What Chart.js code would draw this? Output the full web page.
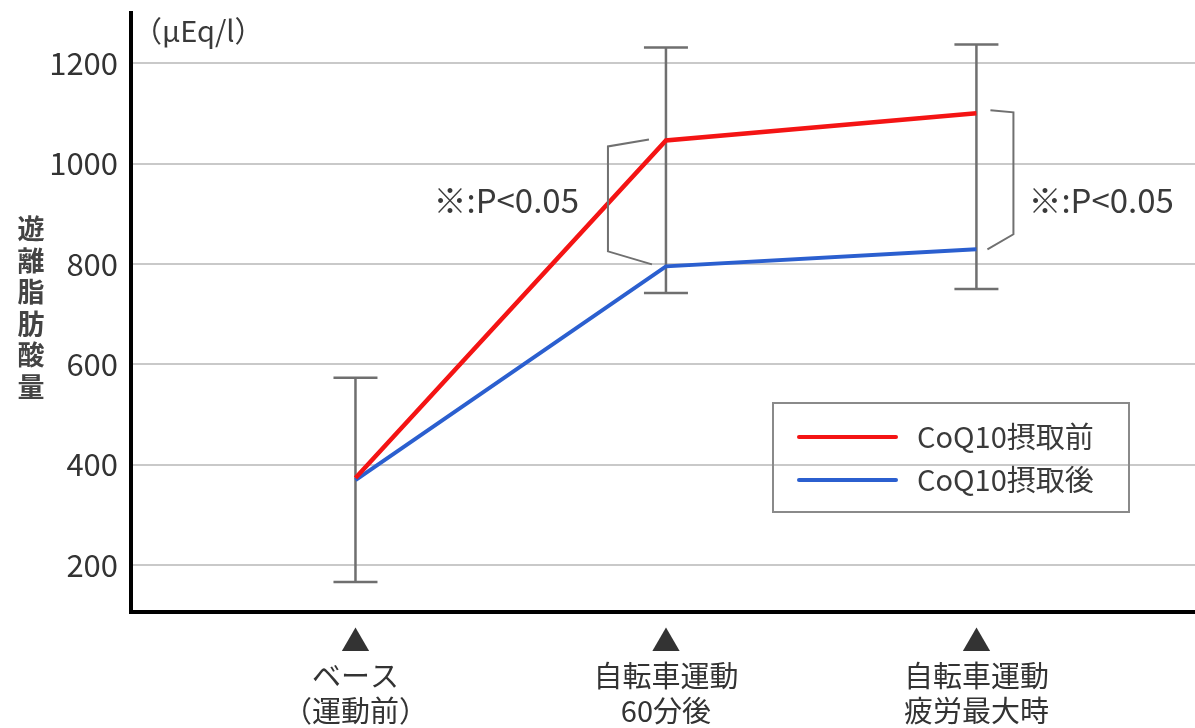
<!DOCTYPE html>
<html>
<head>
<meta charset="utf-8">
<script src="https://cdn.jsdelivr.net/npm/chart.js@4/dist/chart.umd.min.js"></script>
<style>
html,body{margin:0;padding:0;background:#fff;}
#wrap{width:1195px;height:728px;}
</style>
</head>
<body>
<div id="wrap"><canvas id="c" width="1195" height="728"></canvas></div>
<script>
// ---- data ----
const categories = [["▲","ベース","（運動前）"],["▲","自転車運動","60分後"],["▲","自転車運動","疲労最大時"]];
const seriesNames = ["CoQ10摂取前","CoQ10摂取後"];
const beforeValues = [373, 1046, 1100];
const afterValues = [369, 795, 829];
const errHigh = [573, 1231, 1237];
const errLow = [166, 742, 750];
const yTickValues = [200, 400, 600, 800, 1000, 1200];
const yTitle = "遊離脂肪酸量";
const unitLabel = "（μEq/l）";
const sigLabel = "※:P<0.05";
const sigIndices = [1, 2];

const FONT = '"Noto Sans CJK JP", "Noto Sans", sans-serif';
const RED = '#f41414';
const BLUE = '#2b5fcf';

const toPts = arr => arr.map((v, i) => ({x: i, y: v}));

const annot = {
  id: 'annot',
  beforeDatasetsDraw(chart) {
    const {ctx, scales: {x, y}} = chart;
    ctx.save();
    ctx.strokeStyle = '#6f6f6f';
    ctx.lineWidth = 2.5;
    categories.forEach((c, i) => {
      const px = x.getPixelForValue(i);
      const hi = y.getPixelForValue(errHigh[i]);
      const lo = y.getPixelForValue(errLow[i]);
      ctx.beginPath();
      ctx.moveTo(px, hi); ctx.lineTo(px, lo);
      ctx.moveTo(px - 22, hi); ctx.lineTo(px + 22, hi);
      ctx.moveTo(px - 22, lo); ctx.lineTo(px + 22, lo);
      ctx.stroke();
    });
    ctx.restore();
  },
  afterDraw(chart) {
    const {ctx, scales: {x, y}, chartArea} = chart;
    ctx.save();
    // brackets
    ctx.strokeStyle = '#707070';
    ctx.lineWidth = 2;
    ctx.lineJoin = 'miter';
    ctx.fillStyle = '#3a3a3a';
    ctx.textBaseline = 'middle';
    sigIndices.forEach((i, k) => {
      const px = x.getPixelForValue(i);
      const yr = y.getPixelForValue(beforeValues[i]);
      const yb = y.getPixelForValue(afterValues[i]);
      ctx.beginPath();
      if (k === 0) {
        ctx.moveTo(px - 17, yr - 1);
        ctx.lineTo(px - 58, yr + 6);
        ctx.lineTo(px - 58, yb - 15);
        ctx.lineTo(px - 14, yb - 2);
      } else {
        ctx.moveTo(px + 14, yr - 3);
        ctx.lineTo(px + 37, yr - 1);
        ctx.lineTo(px + 37, yb - 15);
        ctx.lineTo(px + 11, yb);
      }
      ctx.stroke();
      ctx.font = '33px ' + FONT;
      ctx.textAlign = k === 0 ? 'right' : 'left';
      const tx = k === 0 ? px - 87 : px + 52;
      ctx.fillText(sigLabel, tx, 200);
    });
    // unit label
    ctx.textAlign = 'left';
    ctx.font = '29px ' + FONT;
    ctx.fillText(unitLabel, chartArea.left + 2, 31);
    // y title stacked
    ctx.font = 'bold 27px ' + FONT;
    ctx.fillStyle = '#444';
    ctx.textAlign = 'center';
    const chars = Array.from(yTitle);
    chars.forEach((ch, j) => ctx.fillText(ch, 31, 229 + j * 31.5));
    // legend box
    const lx = 773, ly = 403, lw = 356, lh = 109;
    ctx.strokeStyle = '#8a8a8a';
    ctx.lineWidth = 2;
    ctx.strokeRect(lx, ly, lw, lh);
    ctx.font = '29px ' + FONT;
    ctx.textAlign = 'left';
    chart.data.datasets.forEach((ds, j) => {
      const yy = 437 + j * 43;
      ctx.strokeStyle = ds.borderColor;
      ctx.lineWidth = 4;
      ctx.lineCap = 'round';
      ctx.beginPath(); ctx.moveTo(799, yy); ctx.lineTo(896, yy); ctx.stroke();
      ctx.fillStyle = '#3a3a3a';
      ctx.fillText(ds.label, 917, yy);
    });
    ctx.restore();
  }
};

new Chart(document.getElementById('c'), {
  type: 'line',
  data: {
    datasets: [
      {label: seriesNames[0], data: toPts(beforeValues), borderColor: RED, borderWidth: 4.5, pointRadius: 0, tension: 0},
      {label: seriesNames[1], data: toPts(afterValues), borderColor: BLUE, borderWidth: 4, pointRadius: 0, tension: 0}
    ]
  },
  options: {
    responsive: false,
    animation: false,
    layout: {padding: {top: 13, right: 0, left: 0, bottom: 0}},
    plugins: {legend: {display: false}, tooltip: {enabled: false}},
    scales: {
      x: {
        type: 'linear',
        min: -0.723, max: 2.704,
        afterBuildTicks: s => { s.ticks = categories.map((c, i) => ({value: i})); },
        afterFit: s => { s.height = 116; s.paddingLeft = 0; s.paddingRight = 0; },
        ticks: {
          callback: v => categories[v],
          color: '#333',
          padding: 12,
          font: {family: FONT, size: 29, lineHeight: 1.2},
          maxRotation: 0, autoSkip: false
        },
        grid: {display: false, drawTicks: false},
        border: {display: true, color: '#000', width: 4}
      },
      y: {
        type: 'linear',
        min: 106, max: 1300,
        afterBuildTicks: s => { s.ticks = yTickValues.map(v => ({value: v})); },
        afterFit: s => { s.width = 131; s.paddingTop = 0; s.paddingBottom = 0; },
        ticks: {
          color: '#333',
          padding: 13,
          font: {family: FONT, size: 31},
          callback: v => String(v)
        },
        grid: {color: '#c9c9c9', lineWidth: 2, drawTicks: false},
        border: {display: true, color: '#000', width: 4}
      }
    }
  },
  plugins: [annot]
});
</script>
</body>
</html>
